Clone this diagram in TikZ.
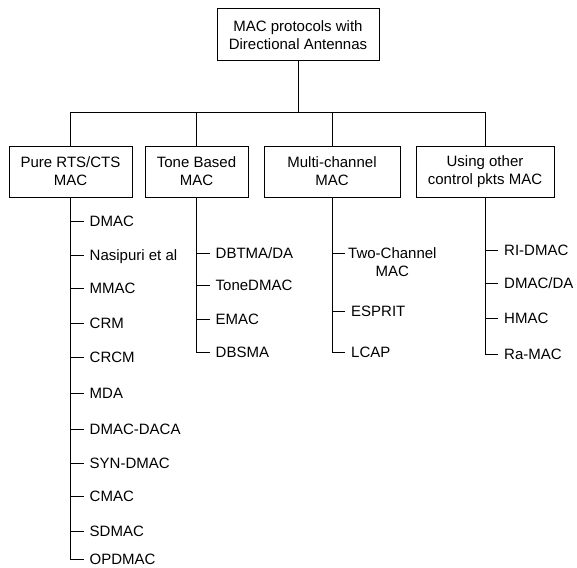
\documentclass[tikz,border=0pt]{standalone}
\usepackage{fontspec}
\setmainfont{Liberation Sans}
\usetikzlibrary{
  positioning
  , calc
}

\tikzset{
  every node/.style={font=\fontsize{15}{18}\selectfont},
  catbox/.style={draw, line width=1pt, align=center, inner sep=0pt, minimum height=51pt},
  leaf/.style={anchor=west, inner xsep=6pt, inner ysep=0pt, text height=11pt, text depth=0pt},
  branch/.style={line width=1pt},
}

\begin{document}
\begin{tikzpicture}[x=1pt, y=-1pt]
      \useasboundingbox (0,0) rectangle (577,567);

      % root and the four families
      \node [catbox, minimum width=162pt, minimum height=52pt] (root) at (298,35)
        {MAC protocols with\\Directional Antennas};
      \node [catbox, minimum width=123pt] (pure) at (70.5,171.5) {Pure RTS/CTS\\MAC};
      \node [catbox, minimum width=103pt] (tone) at (196.5,171.5) {Tone Based\\MAC};
      \node [catbox, minimum width=136pt] (multi) at (332,171.5) {Multi-channel\\MAC};
      \node [catbox, minimum width=138pt] (other) at (485,171.5) {Using other\\control pkts MAC};

      \draw [branch] (root.south) -- ++(0,51) -| (pure.north);
      \draw [branch] (root.south) -- ++(0,51) -| (tone.north);
      \draw [branch] (root.south) -- ++(0,51) -| (multi.north);
      \draw [branch] (root.south) -- ++(0,51) -| (other.north);

      % Pure RTS/CTS
      \node [leaf] (p1) at (83.5,221) {DMAC};
      \node [leaf] (p2) at (83.5,255) {Nasipuri et al};
      \node [leaf] (p3) at (83.5,288) {MMAC};
      \node [leaf] (p4) at (83.5,323) {CRM};
      \node [leaf] (p5) at (83.5,357) {CRCM};
      \node [leaf] (p6) at (83.5,393) {MDA};
      \node [leaf] (p7) at (83.5,429) {DMAC-DACA};
      \node [leaf] (p8) at (83.5,463) {SYN-DMAC};
      \node [leaf] (p9) at (83.5,496) {CMAC};
      \node [leaf] (p10) at (83.5,531) {SDMAC};
      \node [leaf] (p11) at (83.5,559) {OPDMAC};
      \draw [branch] (pure.south) |- (p1.west);
      \draw [branch] (pure.south) |- (p2.west);
      \draw [branch] (pure.south) |- (p3.west);
      \draw [branch] (pure.south) |- (p4.west);
      \draw [branch] (pure.south) |- (p5.west);
      \draw [branch] (pure.south) |- (p6.west);
      \draw [branch] (pure.south) |- (p7.west);
      \draw [branch] (pure.south) |- (p8.west);
      \draw [branch] (pure.south) |- (p9.west);
      \draw [branch] (pure.south) |- (p10.west);
      \draw [branch] (pure.south) |- (p11.west);

      % Tone based
      \node [leaf] (t1) at (209.5,253) {DBTMA/DA};
      \node [leaf] (t2) at (209.5,285) {ToneDMAC};
      \node [leaf] (t3) at (209.5,319) {EMAC};
      \node [leaf] (t4) at (209.5,352) {DBSMA};
      \draw [branch] (tone.south) |- (t1.west);
      \draw [branch] (tone.south) |- (t2.west);
      \draw [branch] (tone.south) |- (t3.west);
      \draw [branch] (tone.south) |- (t4.west);

      % Multi-channel
      \node [leaf, align=center, anchor=base west, inner xsep=3pt] (m1) at (345,276.4) {Two-Channel\\MAC};
      \coordinate (m1in) at (345,253);
      \node [leaf] (m2) at (345,311) {ESPRIT};
      \node [leaf] (m3) at (345,352) {LCAP};
      \draw [branch] (multi.south) |- (m1in);
      \draw [branch] (multi.south) |- (m2.west);
      \draw [branch] (multi.south) |- (m3.west);

      % other control packets
      \node [leaf] (o1) at (498,250) {RI-DMAC};
      \node [leaf] (o2) at (498,283) {DMAC/DA};
      \node [leaf] (o3) at (498,318) {HMAC};
      \node [leaf] (o4) at (498,354) {Ra-MAC};
      \draw [branch] (other.south) |- (o1.west);
      \draw [branch] (other.south) |- (o2.west);
      \draw [branch] (other.south) |- (o3.west);
      \draw [branch] (other.south) |- (o4.west);
    \end{tikzpicture}
\end{document}
